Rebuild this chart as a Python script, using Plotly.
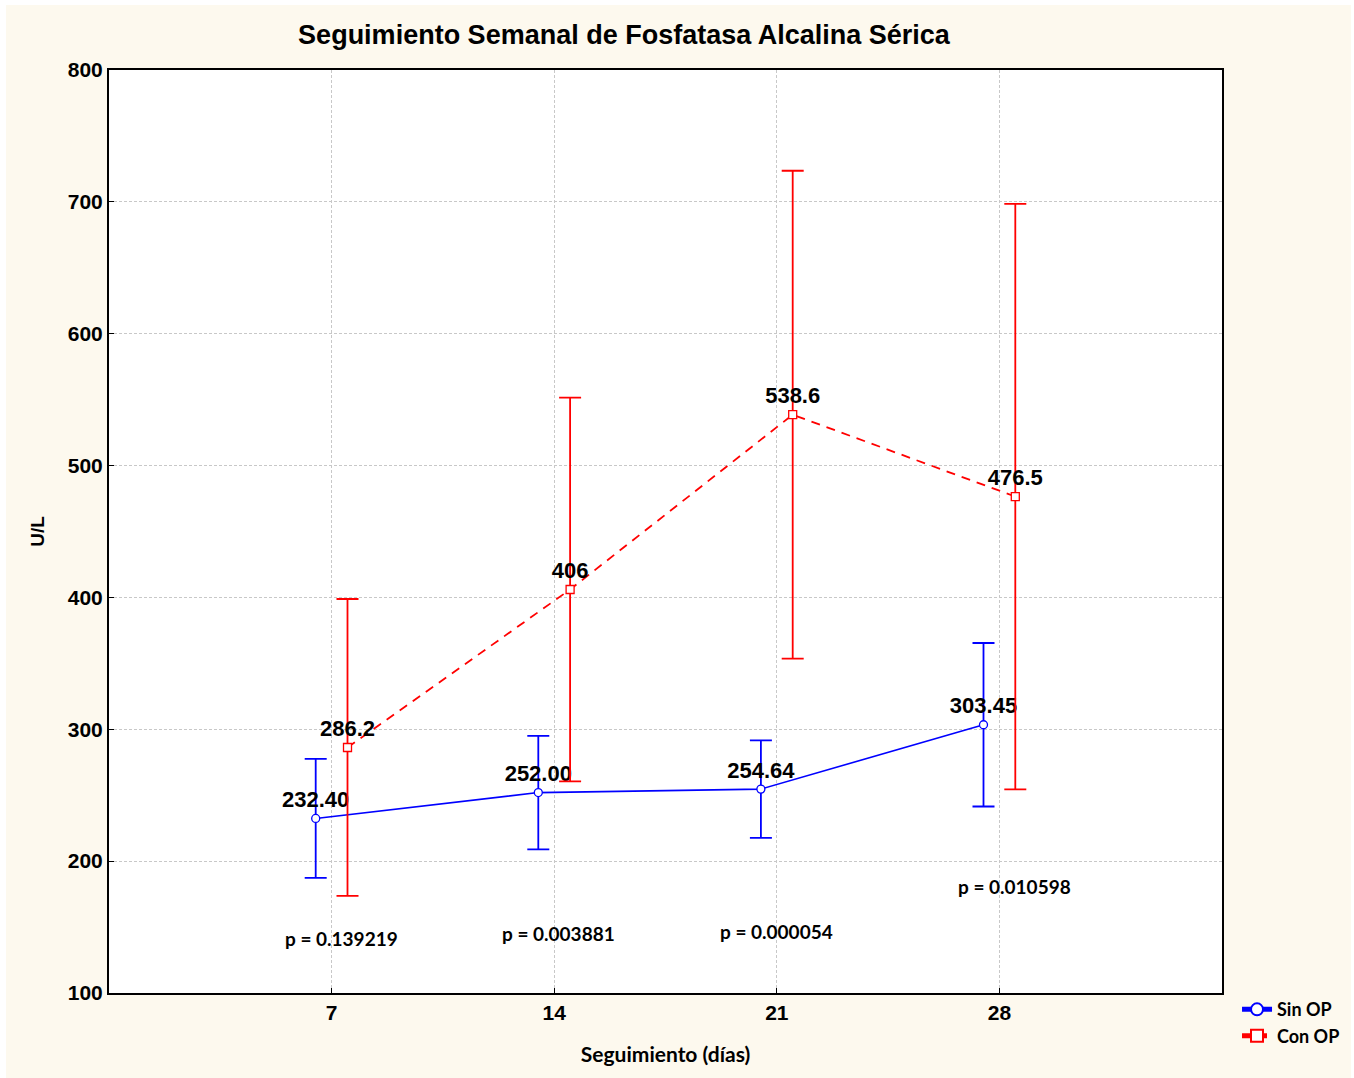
import plotly.graph_objects as go

days = [7, 14, 21, 28]
tick_labels = ["7", "14", "21", "28"]
offset = 0.5

sin_mean = [232.40, 252.00, 254.64, 303.45]
sin_err = [45.1, 43.0, 37.0, 62.0]
sin_text = ["232.40", "252.00", "254.64", "303.45"]

con_mean = [286.2, 406.0, 538.6, 476.5]
con_err = [112.6, 145.5, 185.0, 222.0]
con_text = ["286.2", "406", "538.6", "476.5"]

p_text = ["p = 0.139219", "p = 0.003881", "p = 0.000054", "p = 0.010598"]
p_x = [7.3, 14.13, 21.0, 28.47]
p_y = [141.7, 145.5, 147.0, 181.1]

BLUE = "#0000FF"
RED = "#FF0000"
CREAM = "#FDF9EE"
ARIAL = "Liberation Sans, Arial, sans-serif"
CALIBRI = "Lato, Open Sans, sans-serif"

fig = go.Figure()

fig.add_trace(go.Scatter(
    x=[d - offset for d in days], y=sin_mean, name="Sin OP",
    mode="lines+markers+text", text=sin_text, textposition="top center",
    textfont=dict(family=ARIAL, size=22, color="black", weight="bold"),
    line=dict(color=BLUE, width=1.6),
    marker=dict(symbol="circle", size=8, color="white", line=dict(color=BLUE, width=1.3)),
    error_y=dict(type="data", array=sin_err, visible=True, color=BLUE, thickness=1.8, width=11),
    cliponaxis=False,
))

fig.add_trace(go.Scatter(
    x=[d + offset for d in days], y=con_mean, name="Con OP",
    mode="lines+markers+text", text=con_text, textposition="top center",
    textfont=dict(family=ARIAL, size=22, color="black", weight="bold"),
    line=dict(color=RED, width=1.8, dash="9px,7px"),
    marker=dict(symbol="square", size=8, color="white", line=dict(color=RED, width=1.3)),
    error_y=dict(type="data", array=con_err, visible=True, color=RED, thickness=1.8, width=11),
    cliponaxis=False,
))

for px_, py_, t in zip(p_x, p_y, p_text):
    fig.add_annotation(x=px_, y=py_, text=t, showarrow=False, xref="x", yref="y",
                       font=dict(family=CALIBRI, size=19, color="black", weight="bold"))

fig.update_layout(
    width=1354, height=1078,
    margin=dict(l=109, r=132, t=70, b=85, autoexpand=False),
    paper_bgcolor="white",
    plot_bgcolor="rgba(0,0,0,0)",
    shapes=[
        dict(type="rect", xref="paper", yref="paper", layer="below",
             x0=-103 / 1113, x1=1242 / 1113, y0=-85 / 923, y1=(923 + 65) / 923,
             fillcolor=CREAM, line=dict(width=0)),
        dict(type="rect", xref="paper", yref="paper", layer="below",
             x0=0, x1=1, y0=0, y1=1, fillcolor="white", line=dict(width=0)),
    ],
    title=dict(text="Seguimiento Semanal de Fosfatasa Alcalina Sérica",
               x=0.4627, xref="paper", xanchor="center",
               y=1 - 35 / 1078, yanchor="middle",
               font=dict(family=ARIAL, size=27, color="black", weight="bold")),
    showlegend=True,
    legend=dict(x=1.0135, y=0.002, xanchor="left", yanchor="top", bgcolor="rgba(0,0,0,0)",
                font=dict(family=CALIBRI, size=18, color="black", weight="bold"),
                tracegroupgap=0, itemsizing="constant", itemwidth=30),
    xaxis=dict(range=[0, 35], tickvals=days, ticktext=tick_labels,
               showgrid=True, gridcolor="#C8C8C8", griddash="3px,2px", gridwidth=1,
               showline=True, mirror=True, linecolor="black", linewidth=2,
               ticks="inside", ticklen=5, tickcolor="black", zeroline=False,
               tickfont=dict(family=ARIAL, size=21, color="black", weight="bold"),
               title=dict(text="Seguimiento (días)", standoff=24,
                          font=dict(family=CALIBRI, size=21, color="black", weight="bold"))),
    yaxis=dict(range=[100, 800], dtick=100,
               showgrid=True, gridcolor="#C8C8C8", griddash="3px,2px", gridwidth=1,
               showline=True, mirror=True, linecolor="black", linewidth=2,
               ticks="inside", ticklen=5, tickcolor="black", zeroline=False,
               tickfont=dict(family=ARIAL, size=21, color="black", weight="bold"),
               title=dict(text="U/L", standoff=18,
                          font=dict(family=ARIAL, size=19, color="black", weight="bold"))),
)

fig.write_html("out.html")
